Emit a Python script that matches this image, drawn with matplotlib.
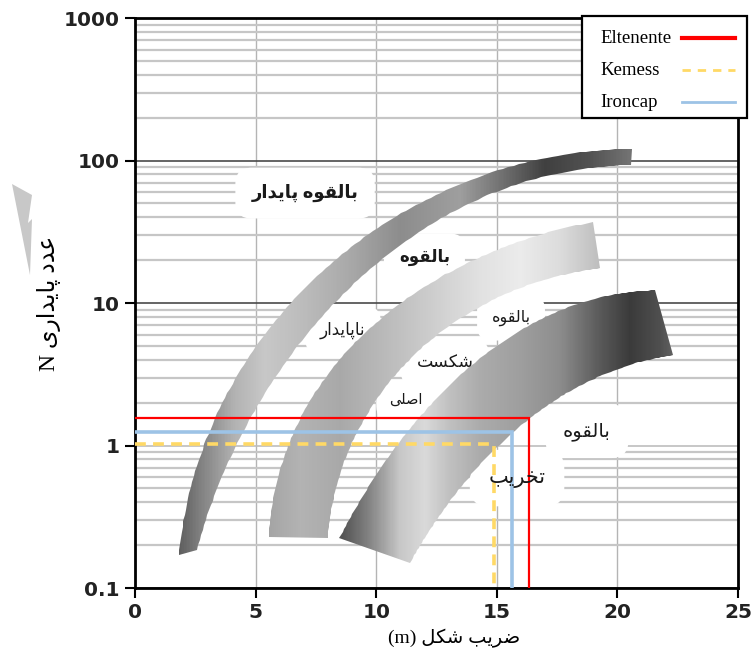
import numpy as np
import matplotlib
matplotlib.use("Agg")
import matplotlib.pyplot as plt
from matplotlib.patches import Polygon, Rectangle
from matplotlib.ticker import LogLocator, NullFormatter

# ---- data ----
# band edges: (x = shape factor m, y = stability number N)
band1_upper_x = [20.54, 16.51, 13.76, 11.41, 9.34, 7.68, 6.56, 5.27, 4.23, 3.40, 2.70, 2.16, 1.66]
band1_upper_y = [124, 97.6, 65.2, 46.4, 29.0, 17.9, 10.8, 5.68, 3.03, 1.58, 0.706, 0.315, 0.176]
band1_lower_x = [20.54, 16.51, 13.76, 10.98, 9.73, 8.49, 6.83, 5.46, 4.46, 3.63, 2.97, 2.55]
band1_lower_y = [93.0, 73.0, 47.2, 29.0, 17.6, 9.38, 4.91, 2.57, 1.35, 0.601, 0.300, 0.185]

band2_upper_x = [18.93, 16.51, 13.76, 10.98, 9.32, 8.20, 7.12, 6.41, 5.87, 5.46]
band2_upper_y = [38.2, 27.7, 17.9, 10.5, 6.16, 3.56, 1.86, 0.93, 0.464, 0.235]
band2_lower_x = [19.25, 16.51, 13.76, 12.22, 10.85, 9.73, 8.98, 8.41, 8.07, 7.95]
band2_lower_y = [17.9, 12.9, 8.24, 5.68, 3.50, 1.77, 0.93, 0.487, 0.325, 0.228]

band3_upper_x = [21.56, 19.28, 17.0, 15.34, 14.30, 13.47, 12.11, 10.70, 9.62, 9.0, 8.58]
band3_upper_y = [12.3, 10.67, 8.24, 5.96, 4.18, 2.66, 1.69, 0.976, 0.545, 0.353, 0.217]
band3_lower_x = [22.31, 19.28, 17.41, 16.38, 15.67, 15.01, 14.10, 13.27, 12.52, 11.82, 11.40]
band3_lower_y = [4.32, 3.03, 2.09, 1.56, 1.24, 0.976, 0.673, 0.450, 0.300, 0.200, 0.150]

# mine case points (m, N)
mines = ["Eltenente", "Kemess", "Ironcap"]
mine_m = [16.35, 14.9, 15.65]
mine_n = [1.57, 1.02, 1.25]

ytick_vals = [0.1, 1, 10, 100, 1000]
ytick_labels = ["0.1", "1", "10", "100", "1000"]
xtick_vals = [0, 5, 10, 15, 20, 25]

zone_labels = ["بالقوه پایدار", "بالقوه", "ناپایدار", "بالقوه", "شکست", "اصلی", "بالقوه", "تخریب"]

# ---- simple persian shaping (matplotlib has no RTL / joining) ----
FORMS = {
    'ا': ('\uFE8D', '\uFE8E', None, None),
    'ب': ('\uFE8F', '\uFE90', '\uFE91', '\uFE92'),
    'پ': ('\uFB56', '\uFB57', '\uFB58', '\uFB59'),
    'ت': ('\uFE95', '\uFE96', '\uFE97', '\uFE98'),
    'خ': ('\uFEA5', '\uFEA6', '\uFEA7', '\uFEA8'),
    'د': ('\uFEA9', '\uFEAA', None, None),
    'ر': ('\uFEAD', '\uFEAE', None, None),
    'س': ('\uFEB1', '\uFEB2', '\uFEB3', '\uFEB4'),
    'ش': ('\uFEB5', '\uFEB6', '\uFEB7', '\uFEB8'),
    'ص': ('\uFEB9', '\uFEBA', '\uFEBB', '\uFEBC'),
    'ض': ('\uFEBD', '\uFEBE', '\uFEBF', '\uFEC0'),
    'ع': ('\uFEC9', '\uFECA', '\uFECB', '\uFECC'),
    'ق': ('\uFED5', '\uFED6', '\uFED7', '\uFED8'),
    'ک': ('\uFB8E', '\uFB8F', '\uFB90', '\uFB91'),
    'ل': ('\uFEDD', '\uFEDE', '\uFEDF', '\uFEE0'),
    'ن': ('\uFEE5', '\uFEE6', '\uFEE7', '\uFEE8'),
    'و': ('\uFEED', '\uFEEE', None, None),
    'ه': ('\uFEE9', '\uFEEA', '\uFEEB', '\uFEEC'),
    'ی': ('\uFBFC', '\uFBFD', '\uFBFE', '\uFBFF'),
}


def shape_word(w):
    out = []
    for i, c in enumerate(w):
        f = FORMS.get(c)
        if f is None:
            out.append(c)
            continue
        prev = w[i - 1] if i > 0 else None
        nxt = w[i + 1] if i < len(w) - 1 else None
        jp = prev in FORMS and FORMS[prev][2] is not None
        jn = nxt in FORMS and f[2] is not None
        if jp and jn:
            out.append(f[3])
        elif jp:
            out.append(f[1])
        elif jn:
            out.append(f[2])
        else:
            out.append(f[0])
    return ''.join(reversed(out))


def fa(text):
    return ' '.join(shape_word(w) for w in reversed(text.split(' ')))


def smooth(xs, ys, deg=3, n=120):
    # least-squares cubic through the read edge points (hand readings are noisy)
    u = np.asarray(xs) / 25 * 603
    v = np.log10(ys) / 4 * 570
    t = np.r_[0, np.cumsum(np.hypot(np.diff(u), np.diff(v)))]
    t = t / t[-1]
    px = np.polyfit(t, xs, deg)
    py = np.polyfit(t, np.log10(ys), deg)
    tt = np.linspace(0, 1, n)
    return np.polyval(px, tt), 10 ** np.polyval(py, tt)


FA_FONT = ['Liberation Serif', 'DejaVu Sans']

fig = plt.figure(figsize=(7.55, 6.61), dpi=100)
ax = fig.add_axes([0.1788, 0.1104, 0.7987, 0.8623])
ax.set_yscale('log')
ax.set_xlim(0, 25)
ax.set_ylim(0.1, 1000)

# grid
ax.yaxis.set_minor_locator(LogLocator(base=10, subs=np.arange(2, 10)))
ax.yaxis.set_minor_formatter(NullFormatter())
ax.grid(which='minor', axis='y', color='#c6c6c6', lw=1.6, zorder=0)
ax.grid(which='major', axis='y', color='#4a4a4a', lw=1.2, zorder=0)
ax.grid(which='major', axis='x', color='#b4b4b4', lw=1.0, zorder=0)
ax.set_axisbelow(True)


# gradient bands
def draw_band(ux, uy, lx, ly, stops_x, stops_g):
    sux, suy = smooth(ux, uy)
    slx, sly = smooth(lx, ly)
    pts = np.column_stack([np.r_[sux, slx[::-1]], np.r_[suy, sly[::-1]]])
    patch = Polygon(pts, closed=True, facecolor='none', edgecolor='none', transform=ax.transData)
    xs = np.linspace(pts[:, 0].min() - 0.1, pts[:, 0].max() + 0.1, 300)
    xc = 0.5 * (xs[1:] + xs[:-1])
    g = np.interp(xc, stops_x, stops_g)
    mesh = ax.pcolormesh(xs, [pts[:, 1].min() * 0.9, pts[:, 1].max() * 1.1], g[None, :],
                         cmap='gray', vmin=0, vmax=1, shading='flat', zorder=3)
    mesh.set_clip_path(patch)


draw_band(band1_upper_x, band1_upper_y, band1_lower_x, band1_lower_y,
          [1.58, 2.69, 4.15, 5.39, 6.84, 8.91, 10.99, 13.47, 15.13, 17.0, 18.86, 20.52],
          [0.33, 0.50, 0.70, 0.78, 0.74, 0.66, 0.55, 0.62, 0.45, 0.25, 0.32, 0.45])
draw_band(band2_upper_x, band2_upper_y, band2_lower_x, band2_lower_y,
          [5.47, 6.84, 8.50, 10.16, 12.23, 14.30, 15.96, 17.62, 19.28],
          [0.64, 0.70, 0.66, 0.72, 0.80, 0.88, 0.92, 0.86, 0.74])
draw_band(band3_upper_x, band3_upper_y, band3_lower_x, band3_lower_y,
          [8.62, 9.74, 10.99, 12.02, 13.06, 14.30, 15.96, 17.62, 19.28, 20.52, 21.77, 22.31],
          [0.33, 0.52, 0.78, 0.85, 0.75, 0.67, 0.62, 0.55, 0.35, 0.23, 0.31, 0.38])

# zone labels: white cloud under the grid-free area, text on top
label_style = [
    (7.05, 59.1, 13, 'bold'),
    (12.0, 21.0, 12, 'bold'),
    (8.62, 6.47, 12, 'normal'),
    (15.59, 7.85, 11.5, 'normal'),
    (12.85, 3.79, 12.5, 'normal'),
    (11.24, 2.09, 10.5, 'normal'),
    (18.74, 1.26, 14, 'normal'),
    (15.84, 0.591, 15, 'normal'),
]
for txt, (lx, ly, fs, fw) in zip(zone_labels, label_style):
    ax.text(lx, ly, fa(txt), ha='center', va='center', fontsize=fs, fontweight=fw,
            family=FA_FONT, color='white', zorder=2.5,
            bbox=dict(boxstyle='round,pad=0.9', facecolor='white', edgecolor='none'))
    ax.text(lx, ly, fa(txt), ha='center', va='center', fontsize=fs, fontweight=fw,
            family=FA_FONT, color='#1a1a1a', zorder=5)

# mine lines
styles = {
    "Eltenente": dict(color='#ff0000', lw=1.6, ls='-'),
    "Kemess": dict(color='#ffd966', lw=2.6, ls=(0, (3, 2))),
    "Ironcap": dict(color='#9dc3e6', lw=2.6, ls='-'),
}
key_styles = {
    "Eltenente": dict(color='#ff0000', lw=3, ls='-'),
    "Kemess": dict(color='#ffd966', lw=2, ls=(0, (3, 2.5))),
    "Ironcap": dict(color='#9dc3e6', lw=2, ls='-'),
}
for name, m, n in zip(mines, mine_m, mine_n):
    ax.plot([0, m, m], [n, n, 0.1], zorder=4, solid_joinstyle='miter', **styles[name])

# key box in the top right corner: names left-aligned, line samples right
ax.add_patch(Rectangle((0.7413, 0.8246), 0.2736, 0.1789, transform=ax.transAxes,
                       facecolor='white', edgecolor='black', lw=1.6, zorder=10, clip_on=False))
for i, name in enumerate(mines):
    yk = 0.9649 - i * 0.0561
    ax.text(0.7711, yk, name, transform=ax.transAxes, ha='left', va='center',
            family='Liberation Serif', fontsize=13.5, zorder=11)
    ax.plot([0.9071, 0.9950], [yk, yk], transform=ax.transAxes, clip_on=False,
            zorder=11, **key_styles[name])

# axes look
for s in ax.spines.values():
    s.set_linewidth(2)
    s.set_color('black')
ax.set_yticks(ytick_vals)
ax.set_yticklabels(ytick_labels)
ax.set_xticks(xtick_vals)
ax.set_xticklabels([str(v) for v in xtick_vals])
ax.tick_params(which='major', direction='out', length=7, width=1.5, pad=4)
ax.tick_params(which='minor', length=0)
for lab in ax.get_xticklabels() + ax.get_yticklabels():
    lab.set_fontweight('bold')
    lab.set_fontsize(14.5)
    lab.set_family('DejaVu Sans')
    lab.set_color('#222222')
# the N = 1 grid line is light in the original
for v, tk in zip(ytick_vals, ax.yaxis.get_major_ticks()):
    if v == 1:
        tk.gridline.set_color('#bdbdbd')

ax.set_xlabel('(m) ' + fa('ضریب شکل'), family=FA_FONT, fontsize=14)
ax.xaxis.set_label_coords(0.529, -0.072)
ax.set_ylabel('N ' + fa('عدد پایداری'), family=FA_FONT, fontsize=17)
ax.yaxis.set_label_coords(-0.122, 0.50)

# grey watermark sliver on the left
wm = [(12, 184), (32, 195), (28, 223), (32, 219), (30, 275)]
fig.add_artist(Polygon([(px / 755, 1 - py / 661) for px, py in wm], closed=True,
                       facecolor='#c8c8c8', edgecolor='none', transform=fig.transFigure))

fig.savefig('out.png', dpi=100)
